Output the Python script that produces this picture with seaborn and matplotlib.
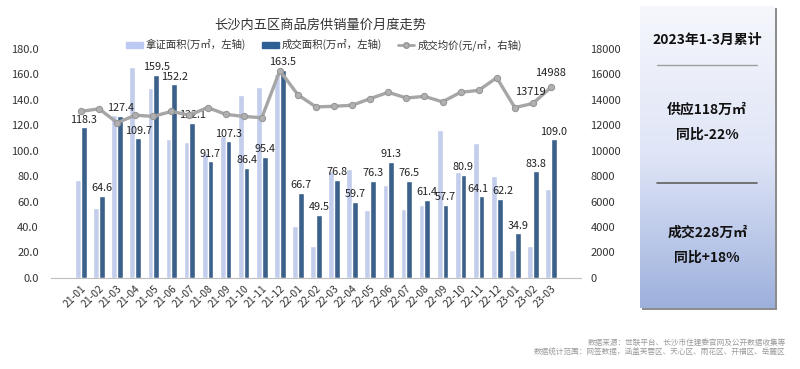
import numpy as np
import pandas as pd
import matplotlib
matplotlib.use('Agg')
import matplotlib.pyplot as plt
from matplotlib.lines import Line2D
from matplotlib.patches import Patch
import seaborn as sns

sns.set_style('white')
plt.rcParams['font.family'] = ['Noto Sans CJK SC', 'DejaVu Sans']
plt.rcParams['axes.unicode_minus'] = False

# data
months = ['21-01', '21-02', '21-03', '21-04', '21-05', '21-06', '21-07', '21-08', '21-09',
          '21-10', '21-11', '21-12', '22-01', '22-02', '22-03', '22-04', '22-05', '22-06',
          '22-07', '22-08', '22-09', '22-10', '22-11', '22-12', '23-01', '23-02', '23-03']
supply = [77, 55, 128, 166, 149, 109, 107, 98, 112, 144, 150, 160, 41, 25, 84, 86,
          53, 73, 54, 57, 116, 83, 106, 80, 22, 25, 70]
deal = [118.3, 64.6, 127.4, 109.7, 159.5, 152.2, 122.1, 91.7, 107.3, 86.4, 95.4, 163.5,
        66.7, 49.5, 76.8, 59.7, 76.3, 91.3, 76.5, 61.4, 57.7, 80.9, 64.1, 62.2, 34.9, 83.8, 109.0]
price = [13100, 13300, 12200, 12800, 12700, 13100, 12800, 13400, 12870, 12700, 12600, 16300,
         14400, 13450, 13500, 13580, 14100, 14600, 14150, 14280, 13850, 14600, 14750, 15750,
         13400, 13719, 14988]

s_supply = '拿证面积(万㎡，左轴)'
s_deal = '成交面积(万㎡，左轴)'
s_price = '成交均价(元/㎡，右轴)'

c_light = '#bccaf3'
c_dark = '#2e6096'
c_line = '#a6a6a6'

df = pd.DataFrame({
    'month': months * 2,
    'series': [s_supply] * len(months) + [s_deal] * len(months),
    'value': supply + deal,
})

fig = plt.figure(figsize=(8, 3.69), dpi=100)
ax = fig.add_axes([0.064, 0.247, 0.662, 0.62])

sns.barplot(data=df, x='month', y='value', hue='series', order=months,
            hue_order=[s_supply, s_deal], palette=[c_light, c_dark],
            width=0.64, gap=0, ax=ax, legend=False)
ax.set_ylim(0, 180)
ax.set_yticks(np.arange(0, 181, 20))
ax.set_yticklabels([f'{v:.1f}' for v in np.arange(0, 181, 20)], fontsize=8, color='#333333')
ax.set_xlabel('')
ax.set_ylabel('')
plt.setp(ax.get_xticklabels(), rotation=45, ha='right', rotation_mode='anchor',
         fontsize=7.5, color='#333333')
ax.tick_params(axis='y', length=0, pad=9)
ax.tick_params(axis='x', length=0, pad=4)
for sp in ['top', 'right', 'left']:
    ax.spines[sp].set_visible(False)
ax.spines['bottom'].set_color('#bfbfbf')
labels = ax.bar_label(ax.containers[1], labels=[f'{v:.1f}' for v in deal], padding=2,
                      fontsize=7.8, color='#222222')
# the two December-ish labels sit close together, nudge them apart a little
labels[22].xyann = (-3, 2)
labels[23].xyann = (2, 2)

ax2 = ax.twinx()
sns.lineplot(x=months, y=price, ax=ax2, color=c_line, linewidth=2.4, marker='o',
             markersize=4.5, markerfacecolor='#b0b0b0', markeredgecolor='#959595', sort=False)
ax2.set_ylim(0, 18000)
ax2.set_yticks(np.arange(0, 18001, 2000))
ax2.set_yticklabels([str(v) for v in np.arange(0, 18001, 2000)], fontsize=8, color='#333333')
ax2.tick_params(axis='y', length=0, pad=7)
for sp in ['top', 'right', 'left', 'bottom']:
    ax2.spines[sp].set_visible(False)
ax2.annotate(f'{price[-2]}', (len(months) - 2, price[-2]), xytext=(-2, 5),
             textcoords='offset points', ha='center', va='bottom', fontsize=8, color='#222222')
ax2.annotate(f'{price[-1]}', (len(months) - 1, price[-1]), xytext=(0, 7),
             textcoords='offset points', ha='center', va='bottom', fontsize=8, color='#222222')

fig.text(0.4, 0.932, '长沙内五区商品房供销量价月度走势', ha='center', va='center',
         fontsize=9.5, color='#333333')

handles = [Patch(color=c_light), Patch(color=c_dark),
           Line2D([0], [0], color=c_line, lw=2, marker='o', markersize=4,
                  markerfacecolor='#b0b0b0', markeredgecolor='#959595')]
fig.legend(handles, [s_supply, s_deal, s_price], loc='center', bbox_to_anchor=(0.405, 0.878),
           ncol=3, frameon=False, fontsize=7.5, handlelength=1.6, handleheight=0.5,
           columnspacing=1.5, handletextpad=0.3, labelcolor='#333333')

# summary panel on the right
pax = fig.add_axes([0.80, 0.165, 0.168, 0.82])
shadow = fig.add_axes([0.803, 0.159, 0.168, 0.82], zorder=0)
shadow.set_facecolor('#8d8d8d')
shadow.set_xticks([])
shadow.set_yticks([])
for sp in shadow.spines.values():
    sp.set_visible(False)
pax.set_zorder(1)
grad = np.linspace(0, 1, 256).reshape(-1, 1)
cmap = matplotlib.colors.LinearSegmentedColormap.from_list(
    'panel', ['#f6f7fc', '#dfe5f7', '#9db0dc'])
pax.imshow(grad, aspect='auto', cmap=cmap, extent=[0, 1, 0, 1], origin='upper')
pax.set_xlim(0, 1)
pax.set_ylim(0, 1)
pax.set_xticks([])
pax.set_yticks([])
for sp in pax.spines.values():
    sp.set_visible(False)
kw = dict(ha='center', va='center', fontsize=10, fontweight='bold', color='#111111')
pax.text(0.5, 0.885, '2023年1-3月累计', **kw)
pax.plot([0.13, 0.87], [0.805, 0.805], color='#a0a0a0', lw=1)
pax.text(0.5, 0.655, '供应118万㎡', **kw)
pax.text(0.5, 0.572, '同比-22%', **kw)
pax.plot([0.13, 0.87], [0.415, 0.415], color='#606060', lw=1.2)
pax.text(0.5, 0.25, '成交228万㎡', **kw)
pax.text(0.5, 0.167, '同比+18%', **kw)

fig.text(0.982, 0.07, '数据来源：世联平台、长沙市住建委官网及公开数据收集等', ha='right',
         va='center', fontsize=5.5, color='#9a9a9a')
fig.text(0.982, 0.045, '数据统计范围：网签数据，涵盖芙蓉区、天心区、雨花区、开福区、岳麓区',
         ha='right', va='center', fontsize=5.5, color='#9a9a9a')

fig.savefig('out.png', dpi=100)
